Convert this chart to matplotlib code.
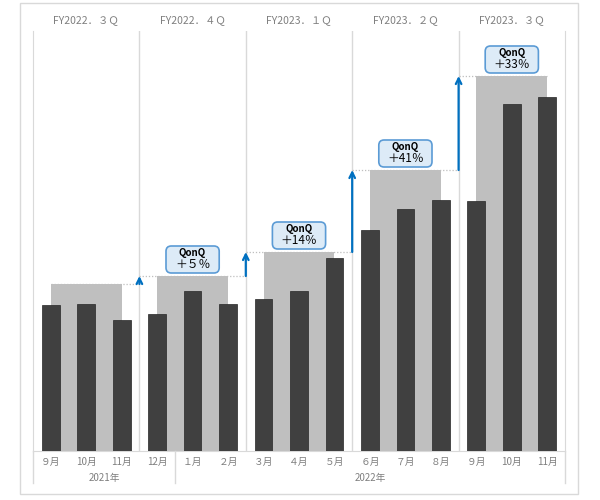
import numpy as np
import matplotlib
matplotlib.use("Agg")
import matplotlib.pyplot as plt
from matplotlib.patches import FancyBboxPatch, Rectangle

plt.rcParams['font.family'] = ['Noto Sans CJK JP', 'DejaVu Sans']

# data
months = ["９月", "10月", "11月", "12月", "１月", "２月", "３月", "４月", "５月",
          "６月", "７月", "８月", "９月", "10月", "11月"]
monthly = [14.6, 14.7, 13.1, 13.7, 16.0, 14.7, 15.2, 16.0, 19.3,
           22.1, 24.2, 25.1, 25.0, 34.7, 35.4]
quarters = ["FY2022．３Ｑ", "FY2022．４Ｑ", "FY2023．１Ｑ", "FY2023．２Ｑ", "FY2023．３Ｑ"]
quarter_vals = [16.7, 17.5, 19.9, 28.1, 37.5]
qonq = [None, "＋５％", "＋14％", "＋41％", "＋33％"]
years = ["2021年", "2022年"]
year_span = [(0, 4), (4, 15)]

DARK = "#404040"
GRAY = "#BFBFBF"
LINE = "#D9D9D9"
TXT = "#7F7F7F"
BLUE = "#0070C0"

fig = plt.figure(figsize=(6, 5), dpi=100)
ax = fig.add_axes([33 / 600, 49 / 500, 532 / 600, 420 / 500])
ax.set_xlim(0, 15)
ax.set_ylim(0, 42)

# outer frame
fig.patches.append(Rectangle((20 / 600, 6 / 500), 558 / 600, 491 / 500,
                             transform=fig.transFigure, fill=False,
                             edgecolor=LINE, lw=1))

# quarter bars (gray, behind)
nq = len(quarters)
for i in range(nq):
    ax.bar(3 * i + 1.5, quarter_vals[i], width=2, color=GRAY, zorder=2)
    left = 3 * i if i > 0 else 3 * i + 0.5
    right = 3 * i + 3 if i < nq - 1 else 3 * i + 2.5
    ax.plot([left, right], [quarter_vals[i]] * 2, color="#BFBFBF",
            ls=(0, (1, 1.5)), lw=0.9, zorder=1)

# monthly bars
x = np.arange(len(months)) + 0.5
ax.bar(x, monthly, width=0.5, color=DARK, edgecolor="#262626", lw=0.5, zorder=3)

# separators
for b in range(3, 15, 3):
    ax.axvline(b, color=LINE, lw=1, zorder=0)

# arrows and QonQ labels
xu = 532 / 15
yu = 420 / 42
for i in range(1, nq):
    ax.annotate("", xy=(3 * i, quarter_vals[i]), xytext=(3 * i, quarter_vals[i - 1]),
                arrowprops=dict(arrowstyle="->", color=BLUE, lw=1.6,
                                shrinkA=0, shrinkB=0, mutation_scale=10),
                zorder=5)
for i in range(1, nq):
    cx = 3 * i + 1.5
    y0 = quarter_vals[i] + 0.3
    w, h = 1.5, 2.7
    box = FancyBboxPatch((cx - w / 2, y0), w, h,
                         boxstyle="round,pad=0,rounding_size=0.15",
                         mutation_aspect=xu / yu,
                         facecolor="#DDEBF7", edgecolor="#5B9BD5", lw=1.2, zorder=6)
    ax.add_patch(box)
    ax.text(cx, y0 + h * 0.74, "QonQ", ha="center", va="center",
            fontsize=7, fontweight="bold", color="black", zorder=7)
    ax.text(cx, y0 + h * 0.3, qonq[i], ha="center", va="center",
            fontsize=8.5, color="black", zorder=7)

# quarter headers
for i, q in enumerate(quarters):
    ax.text(3 * i + 1.5, 43.1, q, ha="center", va="center",
            fontsize=7.5, color=TXT, clip_on=False)

# category axis
ax.set_xticks([])
ax.set_yticks([])
ax.spines["top"].set_visible(False)
for s in ["left", "right", "bottom"]:
    ax.spines[s].set_color(LINE)
for i, m in enumerate(months):
    ax.text(i + 0.5, -1.05, m, ha="center", va="center", fontsize=7,
            color=TXT, clip_on=False)
for (a, b), yr in zip(year_span, years):
    ax.text((a + b) / 2, -2.75, yr, ha="center", va="center", fontsize=7,
            color=TXT, clip_on=False)
for b in [0, 4, 15]:
    ax.plot([b, b], [0, -3.2], color=LINE, lw=1, clip_on=False)

fig.savefig("out.png", dpi=100)
